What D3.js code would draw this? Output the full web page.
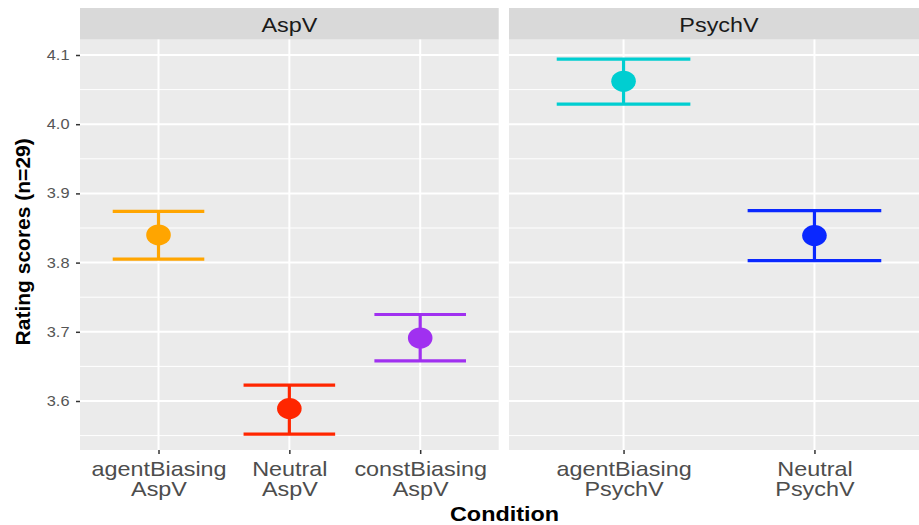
<!DOCTYPE html>
<html>
<head>
<meta charset="utf-8">
<script src="https://cdnjs.cloudflare.com/ajax/libs/d3/7.8.5/d3.min.js"></script>
<style>
  body { margin: 0; background: #fff; }
  text { font-family: "Liberation Sans", Arial, sans-serif; }
</style>
</head>
<body>
<svg width="919" height="525"></svg>
<script>
// panels (facets)
var panels = ["AspV", "PsychV"];

// AspV panel
var aspConditions = ["agentBiasing", "Neutral", "constBiasing"],
    aspMeans = [3.840, 3.589, 3.691],
    aspLower = [3.805, 3.552, 3.658],
    aspUpper = [3.874, 3.623, 3.725],
    aspColors = ["#ffa500", "#ff2600", "#a030f0"];

// PsychV panel
var psyConditions = ["agentBiasing", "Neutral"],
    psyMeans = [4.062, 3.839],
    psyLower = [4.029, 3.803],
    psyUpper = [4.094, 3.875],
    psyColors = ["#00ced1", "#0a28ff"];

var yTicks = [3.6, 3.7, 3.8, 3.9, 4.0, 4.1],
    yMinor = [3.55, 3.65, 3.75, 3.85, 3.95, 4.05];

var svg = d3.select("svg"),
    panelTop = 39.5, panelBottom = 450, stripTop = 8,
    stretch = 1.17;

var y = d3.scaleLinear().domain([3.5292, 4.1224]).range([panelBottom, panelTop]);

var facets = [
  {name: panels[0], left: 80, right: 498.7, cond: aspConditions, mean: aspMeans, lo: aspLower, hi: aspUpper, col: aspColors},
  {name: panels[1], left: 509, right: 929, cond: psyConditions, mean: psyMeans, lo: psyLower, hi: psyUpper, col: psyColors}
];

facets.forEach(function(f) {
  var x = d3.scalePoint().domain(f.cond).range([f.left, f.right]).padding(0.6),
      step = x.step(),
      g = svg.append("g");

  // panel background + strip
  g.append("rect").attr("x", f.left).attr("y", panelTop).attr("width", f.right - f.left).attr("height", panelBottom - panelTop)
      .attr("fill", "#ebebeb");
  g.append("rect").attr("x", f.left).attr("y", stripTop).attr("width", f.right - f.left).attr("height", panelTop - stripTop)
      .attr("fill", "#d9d9d9");
  g.append("text")
      .attr("transform", "translate(" + ((f.left + f.right) / 2) + ",32) scale(" + stretch + ",1)")
      .attr("text-anchor", "middle").attr("font-size", 20).attr("fill", "#1a1a1a")
      .text(f.name);

  // gridlines
  g.selectAll(".minor").data(yMinor).enter().append("line")
      .attr("x1", f.left).attr("x2", f.right)
      .attr("y1", function(d) { return y(d); }).attr("y2", function(d) { return y(d); })
      .attr("stroke", "#fff").attr("stroke-width", 1);
  g.selectAll(".major").data(yTicks).enter().append("line")
      .attr("x1", f.left).attr("x2", f.right)
      .attr("y1", function(d) { return y(d); }).attr("y2", function(d) { return y(d); })
      .attr("stroke", "#fff").attr("stroke-width", 2);
  g.selectAll(".vgrid").data(f.cond).enter().append("line")
      .attr("x1", function(d) { return x(d); }).attr("x2", function(d) { return x(d); })
      .attr("y1", panelTop).attr("y2", panelBottom)
      .attr("stroke", "#fff").attr("stroke-width", 2);

  // x axis
  var ax = g.append("g")
      .attr("transform", "translate(0," + panelBottom + ")")
      .call(d3.axisBottom(x).tickSize(4).tickSizeOuter(0));
  ax.select(".domain").remove();
  ax.selectAll(".tick line").attr("stroke", "#333").attr("stroke-width", 1.5);
  ax.selectAll(".tick text").each(function(d) {
    var t = d3.select(this).text(null)
        .attr("y", 0).attr("dy", null)
        .attr("transform", "scale(" + stretch + ",1)")
        .attr("font-size", 20).attr("fill", "#4d4d4d");
    t.append("tspan").attr("x", 0).attr("y", 26.5).text(d);
    t.append("tspan").attr("x", 0).attr("y", 46).text(f.name);
  });

  // error bars + points
  var rows = f.cond.map(function(c, i) {
    return {c: c, m: f.mean[i], lo: f.lo[i], hi: f.hi[i], col: f.col[i]};
  });
  var bar = g.selectAll(".bar").data(rows).enter().append("g");
  bar.append("line")
      .attr("x1", function(d) { return x(d.c); }).attr("x2", function(d) { return x(d.c); })
      .attr("y1", function(d) { return y(d.hi); }).attr("y2", function(d) { return y(d.lo); })
      .attr("stroke", function(d) { return d.col; }).attr("stroke-width", 3.2);
  ["hi", "lo"].forEach(function(k) {
    bar.append("line")
        .attr("x1", function(d) { return x(d.c) - step * 0.35; })
        .attr("x2", function(d) { return x(d.c) + step * 0.35; })
        .attr("y1", function(d) { return y(d[k]); }).attr("y2", function(d) { return y(d[k]); })
        .attr("stroke", function(d) { return d.col; }).attr("stroke-width", 3.2);
  });
  bar.append("ellipse")
      .attr("cx", function(d) { return x(d.c); }).attr("cy", function(d) { return y(d.m); })
      .attr("rx", 12.3).attr("ry", 10.5)
      .attr("fill", function(d) { return d.col; });
});

// y axis
var ay = svg.append("g")
    .attr("transform", "translate(80,0)")
    .call(d3.axisLeft(y).tickValues(yTicks).tickSize(4).tickPadding(5).tickFormat(d3.format(".1f")));
ay.select(".domain").remove();
ay.selectAll(".tick line").attr("stroke", "#333").attr("stroke-width", 1.5);
ay.selectAll(".tick text")
    .attr("transform", "scale(" + stretch + ",1)")
    .attr("font-size", 14).attr("fill", "#555")
    .attr("font-family", "Liberation Sans, Arial, sans-serif");

// axis titles
svg.append("text")
    .attr("transform", "translate(" + ((80 + 929) / 2) + ",521) scale(" + stretch + ",1)")
    .attr("text-anchor", "middle").attr("font-size", 20).attr("font-weight", "bold")
    .text("Condition");
svg.append("text")
    .attr("transform", "translate(30," + y(3.83) + ") rotate(-90)")
    .attr("text-anchor", "middle").attr("font-size", 21).attr("font-weight", "bold")
    .text("Rating scores (n=29)");
</script>
</body>
</html>
